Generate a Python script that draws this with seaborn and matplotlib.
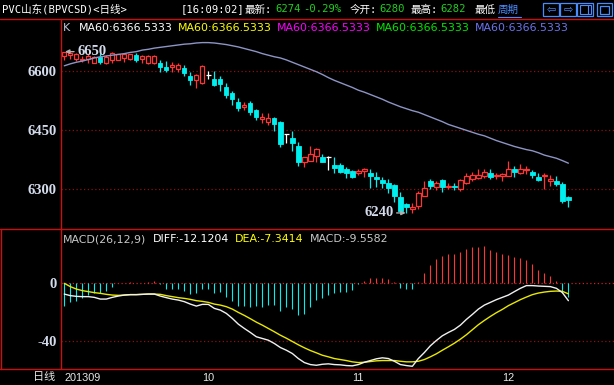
import numpy as np
import matplotlib
matplotlib.use("Agg")
import matplotlib.pyplot as plt
import seaborn as sns
from matplotlib.patches import Rectangle
from matplotlib.lines import Line2D

# ---------------- data ----------------
opens = [6640, 6641, 6631, 6630, 6631, 6620, 6636, 6620, 6630, 6630,
         6633, 6632, 6641, 6631, 6620, 6620, 6622, 6612, 6612, 6606,
         6609, 6588, 6579, 6571, 6591, 6580, 6580, 6559, 6544, 6521,
         6510, 6520, 6502, 6480, 6472, 6482, 6472, 6441, 6431, 6410,
         6370, 6373, 6385, 6381, 6381, 6362, 6362, 6352, 6347, 6342,
         6346, 6342, 6332, 6324, 6317, 6311, 6281, 6262, 6250, 6258,
         6284, 6321, 6305, 6324, 6306, 6308, 6300, 6315, 6326, 6328,
         6335, 6341, 6334, 6334, 6335, 6352, 6341, 6348, 6345, 6332,
         6333, 6322, 6322, 6314, 6280]
highs = [6650, 6649, 6646, 6638, 6644, 6640, 6646, 6641, 6648, 6645,
         6647, 6645, 6646, 6641, 6641, 6641, 6629, 6626, 6623, 6620,
         6616, 6597, 6592, 6616, 6601, 6601, 6588, 6570, 6551, 6531,
         6521, 6524, 6503, 6493, 6493, 6483, 6474, 6441, 6448, 6421,
         6382, 6410, 6406, 6389, 6386, 6381, 6366, 6358, 6348, 6351,
         6355, 6352, 6345, 6332, 6325, 6313, 6294, 6264, 6264, 6296,
         6321, 6326, 6321, 6325, 6315, 6317, 6325, 6341, 6343, 6352,
         6352, 6351, 6342, 6342, 6372, 6360, 6364, 6360, 6349, 6341,
         6342, 6336, 6334, 6318, 6282]
lows = [6630, 6632, 6625, 6623, 6620, 6620, 6619, 6619, 6620, 6628,
        6624, 6630, 6624, 6622, 6619, 6619, 6599, 6599, 6599, 6597,
        6588, 6565, 6558, 6569, 6580, 6563, 6551, 6531, 6514, 6500,
        6502, 6489, 6476, 6468, 6464, 6449, 6407, 6419, 6398, 6359,
        6356, 6372, 6370, 6369, 6349, 6342, 6341, 6330, 6330, 6336,
        6332, 6303, 6307, 6303, 6291, 6269, 6245, 6240, 6241, 6250,
        6283, 6300, 6298, 6294, 6300, 6298, 6297, 6314, 6322, 6325,
        6330, 6325, 6325, 6322, 6334, 6332, 6339, 6339, 6330, 6321,
        6300, 6309, 6309, 6266, 6256]
closes = [6648, 6647, 6643, 6632, 6640, 6637, 6624, 6636, 6646, 6643,
          6645, 6643, 6630, 6639, 6640, 6640, 6612, 6604, 6615, 6616,
          6596, 6578, 6591, 6613, 6591, 6565, 6568, 6540, 6530, 6507,
          6514, 6497, 6485, 6484, 6482, 6465, 6415, 6441, 6417, 6370,
          6381, 6390, 6402, 6370, 6381, 6355, 6345, 6341, 6332, 6346,
          6351, 6335, 6325, 6317, 6303, 6283, 6246, 6256, 6254, 6291,
          6303, 6309, 6317, 6307, 6309, 6306, 6324, 6335, 6336, 6336,
          6343, 6332, 6337, 6339, 6351, 6345, 6352, 6351, 6336, 6324,
          6337, 6327, 6314, 6271, 6274]
ma60 = [6614, 6619, 6623, 6626, 6630, 6634, 6637, 6639, 6641, 6643,
        6645, 6648, 6650, 6654, 6656, 6659, 6661, 6663, 6665, 6667,
        6669, 6670, 6672, 6673, 6673, 6672, 6670, 6668, 6665, 6662,
        6658, 6654, 6650, 6645, 6641, 6637, 6634, 6629, 6623, 6617,
        6611, 6605, 6599, 6592, 6584, 6577, 6571, 6565, 6559, 6552,
        6547, 6541, 6535, 6529, 6522, 6516, 6510, 6505, 6500, 6496,
        6490, 6484, 6478, 6472, 6465, 6460, 6455, 6450, 6445, 6440,
        6436, 6430, 6424, 6419, 6414, 6409, 6405, 6401, 6398, 6393,
        6387, 6383, 6379, 6373, 6366.5]
diff = [-7.5, -8.6, -9.1, -9.3, -9.3, -9.8, -11.0, -11.0, -9.8, -8.9,
        -8.2, -7.9, -7.9, -7.7, -7.5, -7.5, -8.9, -10.0, -11.0, -11.7,
        -12.8, -14.5, -15.9, -14.7, -14.7, -17.5, -18.7, -21.0, -24.5, -28.5,
        -31.5, -34.3, -37.3, -38.5, -39.7, -42.0, -44.8, -46.7, -49.0, -52.5,
        -55.3, -56.7, -57.2, -56.5, -56.2, -56.7, -56.9, -57.4, -57.6, -56.7,
        -55.1, -53.9, -52.7, -52.0, -52.5, -54.4, -56.7, -57.4, -57.9, -52.5,
        -48.3, -43.6, -39.9, -36.6, -34.3, -32.2, -29.2, -25.2, -21.7, -18.0,
        -15.2, -13.3, -11.4, -9.8, -8.2, -5.8, -3.5, -1.6, -1.6, -1.9,
        -2.1, -2.3, -3.5, -6.5, -12.1204]
dea = [0.0, -2.3, -4.0, -5.1, -5.8, -6.5, -7.0, -7.7, -8.2, -8.4,
       -8.2, -7.9, -7.9, -7.7, -7.5, -7.5, -7.7, -8.6, -9.3, -10.0,
       -10.5, -11.2, -12.1, -12.6, -13.3, -14.5, -15.2, -16.3, -18.0, -20.3,
       -22.4, -24.7, -27.1, -29.2, -31.5, -33.8, -36.2, -38.3, -40.6, -42.9,
       -45.0, -46.9, -48.5, -50.2, -51.3, -52.5, -53.2, -53.9, -54.8, -55.3,
       -55.1, -54.6, -54.1, -53.9, -53.9, -53.9, -54.4, -54.8, -54.8, -54.4,
       -53.2, -51.3, -49.2, -46.7, -44.3, -41.8, -39.0, -35.9, -32.4, -28.9,
       -25.9, -23.1, -20.5, -18.2, -15.6, -13.5, -11.4, -9.6, -7.9, -6.8,
       -6.1, -5.6, -5.4, -5.6, -7.3414]
macd = [-15.6, -12.8, -12.1, -10.5, -8.1, -7.0, -6.5, -5.1, -2.3, 0.2,
        0.3, 0.9, 0.3, 0.3, 0.6, 1.4, -0.7, -4.0, -4.0, -4.0,
        -5.4, -7.4, -7.0, -4.0, -4.0, -7.0, -6.3, -9.8, -12.3, -15.8,
        -15.6, -16.3, -15.8, -16.3, -15.1, -15.1, -19.1, -16.3, -18.2, -22.1,
        -21.2, -16.8, -11.6, -10.0, -8.1, -7.0, -6.3, -5.8, -4.7, -0.7,
        1.6, 4.0, 4.0, 4.0, 3.0, 0.9, -3.5, -4.2, -4.2, 0.9,
        7.4, 13.0, 17.0, 19.3, 20.5, 20.5, 22.1, 24.0, 25.6, 25.6,
        26.1, 23.3, 21.6, 20.5, 19.8, 18.6, 17.5, 16.3, 13.5, 9.3,
        7.0, 5.4, 1.6, -6.5, -9.5582]
month_labels = ["201309", "10", "11", "12"]
month_pos = [0, 23, 48, 73]
price_ticks = [6300, 6450, 6600]
macd_ticks = [-40, 0]

# ---------------- style ----------------
sns.set_theme(style="dark", rc={"axes.facecolor": "black", "figure.facecolor": "black"})
plt.rcParams["font.family"] = ["DejaVu Sans", "Noto Sans CJK SC"]

RED = "#ff3434"
CYAN = "#00f0f0"
FRAME = "#c81010"
TICKC = "#d4dcec"
W, H = 614, 385

fig = plt.figure(figsize=(6.14, 3.85), dpi=100, facecolor="black")


def frac(x0, y0, x1, y1):
    return [x0 / W, 1 - y1 / H, (x1 - x0) / W, (y1 - y0) / H]


ax = fig.add_axes(frac(61, 19, 614, 228))
axm = fig.add_axes(frac(61, 228, 614, 369))
for a in (ax, axm):
    a.set_facecolor("black")
    for s in a.spines.values():
        s.set_visible(False)
    a.grid(False)
    a.set_xlim(-0.55, 91.6)

idx = np.arange(len(opens))
o = np.array(opens, float)
c = np.array(closes, float)
hi = np.array(highs, float)
lo = np.array(lows, float)
up = c > o
dn = c < o
dj = c == o
wcol = np.where(up, RED, np.where(dn, CYAN, "#ffffff"))

# grid
for p in price_ticks:
    ax.axhline(p, color="#8c1010", ls=(0, (1, 2)), lw=0.9, zorder=0)

ax.vlines(idx, lo, hi, colors=list(wcol), lw=0.9, zorder=2)
ax.bar(idx[up], (c - o)[up], bottom=o[up], width=0.72, facecolor="black",
       edgecolor=RED, linewidth=0.9, zorder=3)
ax.bar(idx[dn], (c - o)[dn], bottom=o[dn], width=0.72, facecolor=CYAN,
       edgecolor=CYAN, linewidth=0.6, zorder=3)
ax.hlines(c[dj], idx[dj] - 0.4, idx[dj] + 0.4, colors="#ffffff", lw=0.9, zorder=3)

sns.lineplot(x=idx, y=ma60, ax=ax, color="#8e94c4", lw=1.0, zorder=4)

ax.set_ylim(6201.7, 6733)
ax.set_yticks(price_ticks)
ax.set_yticklabels([str(p) for p in price_ticks], fontfamily="Liberation Serif",
                   fontweight="bold", fontsize=10.5, color=TICKC)
ax.tick_params(axis="y", length=0, pad=3)
ax.set_xticks([])
ax.set_xlabel("")
ax.set_ylabel("")

imax = int(np.argmax(hi))
imin = int(np.argmin(lo))
ax.annotate(str(int(hi[imax])), xy=(imax, hi[imax]), xytext=(13, 0),
            textcoords="offset pixels", ha="left", va="center",
            fontfamily="Liberation Serif", fontweight="bold", fontsize=10.5,
            color=TICKC, zorder=6,
            arrowprops=dict(arrowstyle="-|>", color="#b0b0b0", lw=1.0,
                            mutation_scale=6, shrinkA=0, shrinkB=0.5))
ax.annotate(str(int(lo[imin])), xy=(imin, lo[imin]), xytext=(-13, 0),
            textcoords="offset pixels", ha="right", va="center",
            fontfamily="Liberation Serif", fontweight="bold", fontsize=10.5,
            color=TICKC, zorder=6,
            arrowprops=dict(arrowstyle="-|>", color="#b0b0b0", lw=1.0,
                            mutation_scale=6, shrinkA=0, shrinkB=0.5))

# MACD panel
axm.axhline(0, color="#d02020", ls=(0, (1, 2)), lw=0.9, zorder=0)
axm.axhline(-40, color="#8c1010", ls=(0, (1, 2)), lw=0.9, zorder=0)
mv = np.array(macd)
axm.vlines(idx, 0, mv, colors=[RED if v > 0 else CYAN for v in mv], lw=0.8, zorder=2)
sns.lineplot(x=idx, y=dea, ax=axm, color="#e8e800", lw=1.0, zorder=3)
sns.lineplot(x=idx, y=diff, ax=axm, color="#f0f0f0", lw=1.0, zorder=4)
axm.set_ylim(-59.8, 38.6)
axm.set_yticks(macd_ticks)
axm.set_yticklabels([str(t) for t in macd_ticks], fontfamily="Liberation Serif",
                    fontweight="bold", fontsize=10.5, color=TICKC)
axm.tick_params(axis="y", length=0, pad=3)
axm.set_xticks(month_pos)
axm.set_xticklabels(month_labels, ha="left", fontfamily="Liberation Sans",
                    fontsize=7.8, color="#e8e8e8")
axm.tick_params(axis="x", length=0, pad=3)
axm.set_xlabel("")
axm.set_ylabel("")

# ---------------- overlay (frame + header text) ----------------
ov = fig.add_axes([0, 0, 1, 1])
ov.set_xlim(0, W)
ov.set_ylim(H, 0)
ov.axis("off")
ov.patch.set_alpha(0)

lw = 1.0
ov.add_line(Line2D([0, W], [18.5, 18.5], color=FRAME, lw=lw))
ov.add_line(Line2D([61.3, 61.3], [18.5, 369], color=FRAME, lw=lw))
ov.add_line(Line2D([0, W], [228.5, 228.5], color=FRAME, lw=lw))
ov.add_line(Line2D([0, W], [368.8, 368.8], color=FRAME, lw=lw))
ov.add_line(Line2D([0.8, 0.8], [228.5, 368.8], color=FRAME, lw=lw))

hdr = ["DejaVu Sans Mono", "Noto Sans CJK SC"]
segs = [
    (2, "PVC山东(BPVCSD)<日线>", "#ffffff"),
    (181, "[16:09:02]", "#ffffff"),
    (245, "最新:", "#ffffff"),
    (275, "6274", "#20d020"),
    (303, "-0.29%", "#20d020"),
    (350, "今开:", "#ffffff"),
    (379, "6280", "#20d020"),
    (411, "最高:", "#ffffff"),
    (440, "6282", "#20d020"),
    (475, "最低", "#ffffff"),
]
for x, t, col in segs:
    ov.text(x, 9.5, t, color=col, family=hdr, fontsize=7.6, ha="left", va="center")
ov.add_patch(Rectangle((496, 2), 28, 15, facecolor="black", edgecolor="none"))
ov.text(498, 9.5, "周期", color="#4a8cff", family=hdr, fontsize=7.6, ha="left", va="center")
ov.add_line(Line2D([498, 521], [16.5, 16.5], color="#4a8cff", lw=0.8))

BL = "#4a8cff"
for x0, x1 in [(543, 559), (560, 576), (577, 593), (597, 612)]:
    ov.add_patch(Rectangle((x0, 2.5), x1 - x0, 13.5, facecolor="none", edgecolor=BL, lw=0.9))
ov.text(551, 9.3, "⇦", color=BL, family=["DejaVu Sans"], fontsize=8, ha="center", va="center")
ov.text(568, 9.3, "⇨", color=BL, family=["DejaVu Sans"], fontsize=8, ha="center", va="center")
ov.add_patch(Rectangle((579.5, 4.5), 11, 9.5, facecolor="none", edgecolor=BL, lw=0.8))
ov.add_line(Line2D([587.5, 587.5], [4.5, 14], color=BL, lw=0.8))
ov.add_patch(Rectangle((600, 5.5), 9, 8, facecolor="none", edgecolor=BL, lw=0.9))

# second row: MA legend
ov.text(63, 28, "K", color="#c4c4dc", fontsize=7.9, ha="left", va="center")
legend = [(79, "#ffffff"), (178, "#ffff00"), (277, "#ff00ff"), (376, "#00e800"), (475, "#6c74f0")]
for x, col in legend:
    ov.text(x, 28, "MA60:6366.5333", color=col, fontsize=7.9, ha="left", va="center")

# MACD header
ov.text(63, 239, "MACD(26,12,9)", color="#c8c8c8", fontsize=7.9, ha="left", va="center")
ov.text(153, 239, "DIFF:-12.1204", color="#ffffff", fontsize=7.9, ha="left", va="center")
ov.text(235, 239, "DEA:-7.3414", color="#ffff00", fontsize=7.9, ha="left", va="center")
ov.text(310, 239, "MACD:-9.5582", color="#c8c8c8", fontsize=7.9, ha="left", va="center")

ov.text(44, 377, "日线", color="#e8e8e8", family=["Noto Sans CJK SC"], fontsize=8,
        ha="center", va="center")

fig.savefig("out.png", dpi=100, facecolor="black")
